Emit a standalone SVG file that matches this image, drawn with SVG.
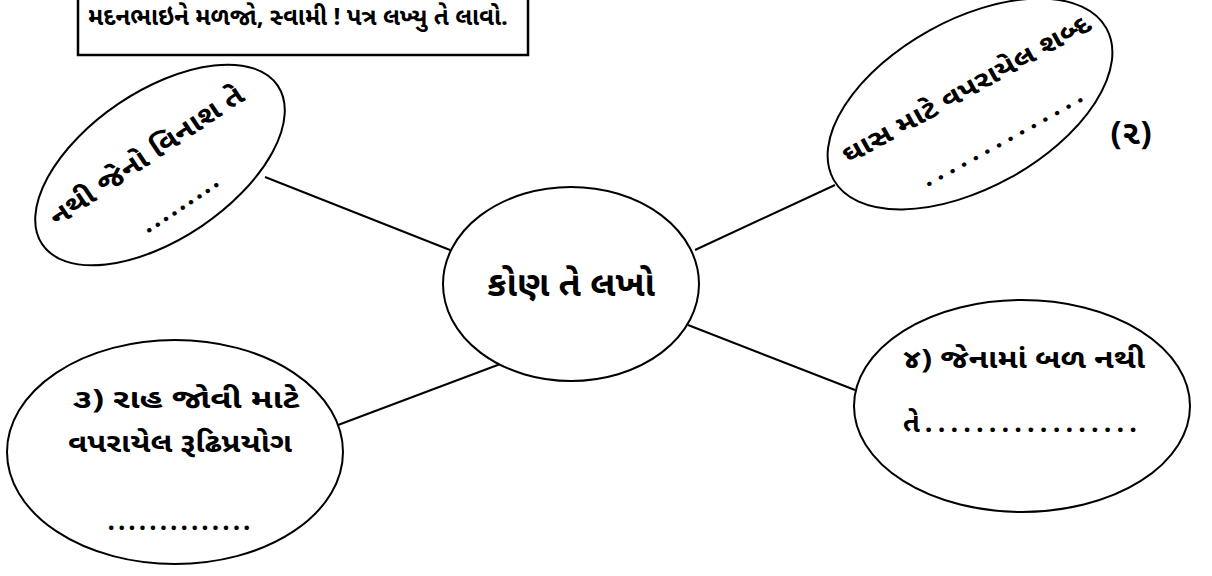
<svg xmlns="http://www.w3.org/2000/svg" width="1212" height="576" viewBox="0 0 1212 576">
<style>
.shape{fill:#fff;stroke:#000;stroke-width:2}
.t{font-family:"Noto Sans Gujarati","Lohit Gujarati","Noto Sans","DejaVu Sans",sans-serif;fill:#000;text-anchor:middle;font-weight:bold}
.conn line{stroke:#000;stroke-width:2}
</style>
<rect width="1212" height="576" fill="#fff"/>
<g id="connectors" class="conn">
<line x1="265" y1="177" x2="450" y2="250"/>
<line x1="695" y1="250" x2="835" y2="185"/>
<line x1="503" y1="363" x2="338" y2="425"/>
<line x1="688" y1="325" x2="855" y2="390"/>
</g>
<g id="header">
<rect x="78" y="-10" width="450" height="65" fill="#fff" stroke="#000" stroke-width="2.5"/>
<text class="t" x="298" y="25" font-size="24" textLength="420" lengthAdjust="spacingAndGlyphs">મદનભાઇને મળજો, સ્વામી ! પત્ર લખ્યુ તે લાવો.</text>
</g>
<g id="node-top-left" transform="translate(160,165) rotate(-34)">
<ellipse class="shape" cx="0" cy="0" rx="142" ry="74"/>
<text class="t" x="-6" y="-6" font-size="27" textLength="228" lengthAdjust="spacingAndGlyphs">નથી જેનો વિનાશ તે</text>
<text class="t" x="-5" y="50" font-size="26" textLength="88" lengthAdjust="spacing">.........</text>
</g>
<g id="node-top-right" transform="translate(970,104) rotate(-29)">
<ellipse class="shape" cx="0" cy="0" rx="156" ry="84"/>
<text class="t" x="4" y="-6" font-size="26" textLength="280" lengthAdjust="spacingAndGlyphs">ઘાસ માટે વપરાયેલ શબ્દ</text>
<text class="t" x="12" y="52" font-size="26" textLength="180" lengthAdjust="spacing">..............</text>
</g>
<g id="node-center">
<ellipse class="shape" cx="571" cy="284" rx="128" ry="97"/>
<text class="t" x="571" y="296" font-size="35" textLength="168" lengthAdjust="spacingAndGlyphs">કોણ તે લખો</text>
</g>
<g id="node-bottom-left">
<ellipse class="shape" cx="175" cy="452" rx="168" ry="112"/>
<text class="t" x="186" y="408" font-size="27" textLength="227" lengthAdjust="spacingAndGlyphs">૩) રાહ જોવી માટે</text>
<text class="t" x="180" y="452" font-size="27" textLength="224" lengthAdjust="spacingAndGlyphs">વપરાયેલ રૂઢિપ્રયોગ</text>
<text class="t" x="179" y="530" font-size="26" textLength="143" lengthAdjust="spacing">..............</text>
</g>
<g id="node-bottom-right">
<ellipse class="shape" cx="1022" cy="406" rx="168" ry="106"/>
<text class="t" x="1024" y="368" font-size="27" textLength="242" lengthAdjust="spacingAndGlyphs">૪) જેનામાં બળ નથી</text>
<text class="t" x="1020" y="432" font-size="27" textLength="234" lengthAdjust="spacing">તે.................</text>
</g>
<text id="marks" class="t" x="1131" y="144" font-size="33">(૨)</text>
</svg>
